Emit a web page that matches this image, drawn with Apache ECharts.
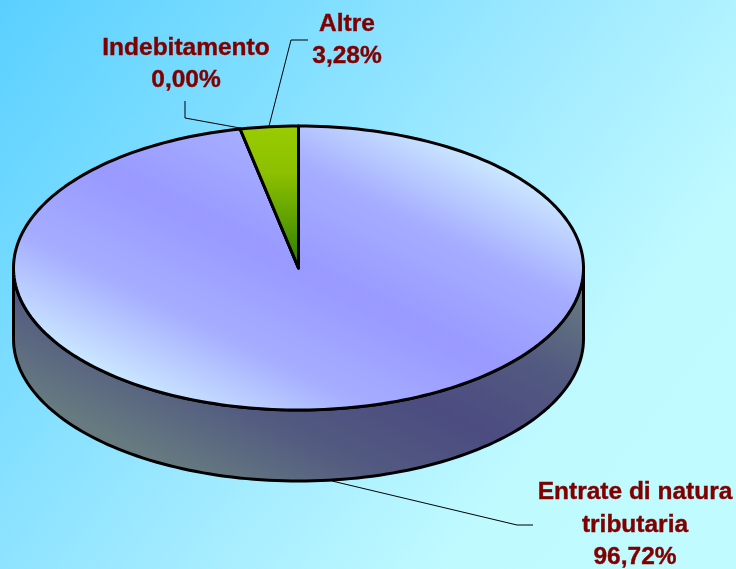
<!DOCTYPE html>
<html>
<head>
<meta charset="utf-8">
<script src="https://cdn.jsdelivr.net/npm/echarts@6/dist/echarts.min.js"></script>
<style>
html, body { margin: 0; padding: 0; }
#main { width: 736px; height: 569px; }
</style>
</head>
<body>
<div id="main"></div>
<script>
// dati, in ordine orario a partire dalle ore 12
const names = ['Entrate di natura\ntributaria', 'Indebitamento', 'Altre'];
const percents = [96.72, 0.00, 3.28];

// geometria della torta "3D"
const cx = 298.5, cy = 268, rx = 285, ry = 142, depth = 71;

// posizione etichette e linee guida, stesso ordine di names
const labelPos = [[635, 525], [186, 64], [347, 40]];
const leaders = [
    [[332, 481], [517, 525], [533, 525]],
    [[240, 128], [185, 118], [185, 101]],
    [[269, 126], [291, 40], [308, 40]]
];

const grad = (x1, y1, x2, y2, stops) => new echarts.graphic.LinearGradient(
    x1, y1, x2, y2, stops.map((c, i) => ({ offset: i / (stops.length - 1), color: c })), true);

const topFill = grad(383.5, 98, 213.5, 438, ['#cfeeff', '#a6aeff', '#9999ff', '#a6aeff', '#cfeeff']);
const sideFill = grad(374.5, 187, 222.5, 491, ['#667a80', '#525a80', '#4c4c80', '#525a80', '#667a80']);
const sliceFills = [topFill, topFill, grad(0, 126, 0, 268, ['#99cc00', '#8cc000', '#5ea000', '#2a7a00'])];

const rimPoint = (deg, dy) => {
    const t = deg * Math.PI / 180;
    return [cx + rx * Math.sin(t), cy - ry * Math.cos(t) + (dy || 0)];
};

const arcPoints = (from, to, dy) => {
    const pts = [];
    const steps = Math.max(1, Math.ceil(Math.abs(to - from) / 1.5));
    for (let i = 0; i <= steps; i++) {
        pts.push(rimPoint(from + (to - from) * i / steps, dy));
    }
    return pts;
};

const total = percents.reduce((a, b) => a + b, 0);

const renderSlice = (params, api) => {
    const i = params.dataIndex;
    const before = percents.slice(0, i).reduce((a, b) => a + b, 0);
    const start = before / total * 360;
    const end = start + api.value(0) / total * 360;
    const children = [];
    const line = { stroke: '#000', lineWidth: 3, lineJoin: 'round' };

    // fianco visibile: solo la parte anteriore, tra 90 e 270 gradi
    const sideFrom = Math.max(start, 90), sideTo = Math.min(end, 270);
    if (sideTo > sideFrom) {
        children.push({
            type: 'polygon',
            z2: 1,
            shape: { points: arcPoints(sideFrom, sideTo, 0).concat(arcPoints(sideTo, sideFrom, depth)) },
            style: Object.assign({ fill: sideFill }, line)
        });
    }
    children.push({
        type: 'polygon',
        z2: 2 + i,
        shape: { points: [[cx, cy]].concat(arcPoints(start, end, 0)) },
        style: Object.assign({ fill: sliceFills[i] }, line)
    });
    children.push({
        type: 'polyline',
        z2: 10,
        shape: { points: leaders[i] },
        style: { fill: null, stroke: '#000', lineWidth: 1 }
    });
    children.push({
        type: 'text',
        z2: 11,
        x: labelPos[i][0],
        y: labelPos[i][1],
        style: {
            text: names[i] + '\n' + percents[i].toFixed(2).replace('.', ',') + '%',
            fill: '#800000',
            stroke: '#800000',
            lineWidth: 0.4,
            font: 'bold 24.5px "Liberation Sans", Arial, sans-serif',
            lineHeight: 32.5,
            align: 'center',
            verticalAlign: 'middle'
        }
    });
    return { type: 'group', children };
};

const myChart = echarts.init(document.getElementById('main'));
myChart.setOption({
    animation: false,
    backgroundColor: grad(0, 0, 736, 569, ['#5ad0ff', '#7cddff', '#a0eaff', '#bffaff', '#bffbff']),
    series: [{
        type: 'custom',
        coordinateSystem: 'none',
        silent: true,
        renderItem: renderSlice,
        data: percents.map((v, i) => ({ name: names[i], value: [v] }))
    }]
});
</script>
</body>
</html>
